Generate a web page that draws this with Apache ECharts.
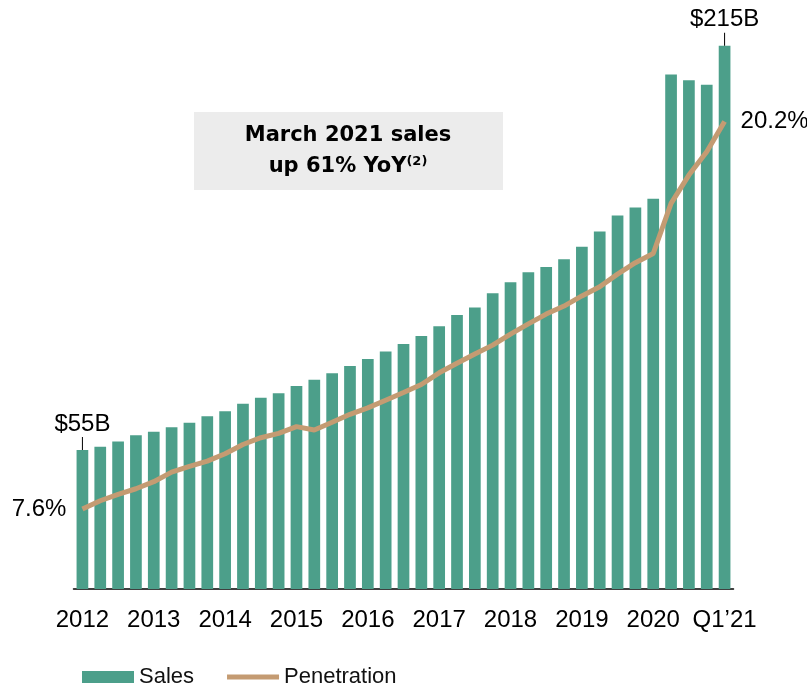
<!DOCTYPE html>
<html>
<head>
<meta charset="utf-8">
<script src="https://cdn.jsdelivr.net/npm/echarts@6/dist/echarts.min.js"></script>
<style>
  html, body { margin: 0; padding: 0; background: #fff; }
  #main { width: 807px; height: 688px; }
</style>
</head>
<body>
<div id="main"></div>
<script>
// quarters, 2012 Q1 .. 2021 Q1
var quarters = [
  '2012 Q1', '2012 Q2', '2012 Q3', '2012 Q4',
  '2013 Q1', '2013 Q2', '2013 Q3', '2013 Q4',
  '2014 Q1', '2014 Q2', '2014 Q3', '2014 Q4',
  '2015 Q1', '2015 Q2', '2015 Q3', '2015 Q4',
  '2016 Q1', '2016 Q2', '2016 Q3', '2016 Q4',
  '2017 Q1', '2017 Q2', '2017 Q3', '2017 Q4',
  '2018 Q1', '2018 Q2', '2018 Q3', '2018 Q4',
  '2019 Q1', '2019 Q2', '2019 Q3', '2019 Q4',
  '2020 Q1', '2020 Q2', '2020 Q3', '2020 Q4',
  '2021 Q1'
];
var tickLabels = ['2012', '2013', '2014', '2015', '2016', '2017', '2018', '2019', '2020', 'Q1’21'];

// sales, $B
var sales = [
  55, 56.3, 58.4, 60.8,
  62.2, 64.0, 65.8, 68.4,
  70.3, 73.3, 75.7, 77.5,
  80.3, 82.8, 85.4, 88.2,
  91.0, 94.0, 96.9, 100.1,
  104.0, 108.4, 111.4, 117.0,
  121.4, 125.3, 127.4, 130.5,
  135.4, 141.5, 147.8, 151.0,
  154.4, 203.6, 201.3, 199.5,
  215
];
// penetration, %
var penetration = [
  7.6, 7.87, 8.08, 8.26,
  8.49, 8.80, 8.99, 9.16,
  9.40, 9.70, 9.92, 10.06,
  10.28, 10.17, 10.42, 10.68,
  10.89, 11.14, 11.39, 11.65,
  12.03, 12.34, 12.64, 12.93,
  13.29, 13.62, 13.94, 14.20,
  14.53, 14.83, 15.24, 15.61,
  15.91, 17.54, 18.46, 19.22,
  20.2
];

var barColor = '#4c9f8a';
var lineColor = '#c49b72';
var txtFont = 'Liberation Sans';

var chart = echarts.init(document.getElementById('main'));

var last = sales.length - 1;
var salesData = sales.map(function (v, i) {
  if (i === 0 || i === last) {
    return {
      value: v,
      label: {
        show: true, position: 'top', distance: 0,
        formatter: '{t|$' + v + 'B}\n{k|}',
        rich: {
          t: { fontFamily: txtFont, fontSize: 24, color: '#000', lineHeight: 26 },
          k: { width: 1, height: 13, backgroundColor: '#000' }
        }
      }
    };
  }
  return v;
});
var penData = penetration.map(function (v, i) {
  if (i === 0 || i === last) {
    return {
      value: v,
      label: {
        show: true, position: i === 0 ? 'left' : 'right', distance: 16,
        formatter: v.toFixed(1) + '%',
        fontFamily: txtFont, fontSize: 24, color: '#000'
      }
    };
  }
  return v;
});

chart.setOption({
  animation: false,
  grid: { left: 73.5, right: 73.5, top: 33, bottom: 99 },
  legend: {
    left: 77, top: 661,
    itemWidth: 52, itemHeight: 12, itemGap: 33,
    textStyle: { fontFamily: txtFont, fontSize: 22, color: '#111' },
    data: [
      { name: 'Sales', icon: 'rect' },
      { name: 'Penetration', icon: 'path://M0,0H52V5H0Z', itemStyle: { color: lineColor } }
    ]
  },
  xAxis: {
    type: 'category',
    data: quarters,
    boundaryGap: true,
    axisLine: { lineStyle: { color: '#000', width: 1.5 } },
    axisTick: { show: false },
    axisLabel: {
      interval: 0, margin: 19,
      fontFamily: txtFont, fontSize: 24, color: '#000',
      formatter: function (v, i) { return i % 4 === 0 ? tickLabels[i / 4] : ''; }
    }
  },
  yAxis: [
    { type: 'value', min: 0, max: 220, show: false, splitLine: { show: false } },
    { type: 'value', min: 5, max: 23.08, show: false, splitLine: { show: false } }
  ],
  series: [
    {
      name: 'Sales', type: 'bar', barWidth: 11.7,
      itemStyle: { color: barColor },
      data: salesData
    },
    {
      name: 'Penetration', type: 'line', yAxisIndex: 1,
      symbol: 'circle', symbolSize: 0, showSymbol: true,
      smooth: false,
      lineStyle: { color: lineColor, width: 5 },
      itemStyle: { color: lineColor },
      data: penData
    }
  ],
  graphic: [
    {
      type: 'rect', left: 194, top: 112,
      shape: { width: 309, height: 78 },
      style: { fill: '#ececec' }
    },
    {
      type: 'text', x: 348, y: 151,
      style: {
        text: '{b|March 2021 sales}\n{b|up 61% YoY}{s|(2)}',
        align: 'center', verticalAlign: 'middle',
        rich: {
          b: { fontFamily: 'DejaVu Sans', fontWeight: 'bold', fontSize: 21, lineHeight: 31, color: '#111' },
          s: { fontFamily: 'DejaVu Sans', fontWeight: 'bold', fontSize: 13, color: '#111', padding: [0, 0, 10, 0] }
        }
      }
    }
  ]
});
</script>
</body>
</html>
